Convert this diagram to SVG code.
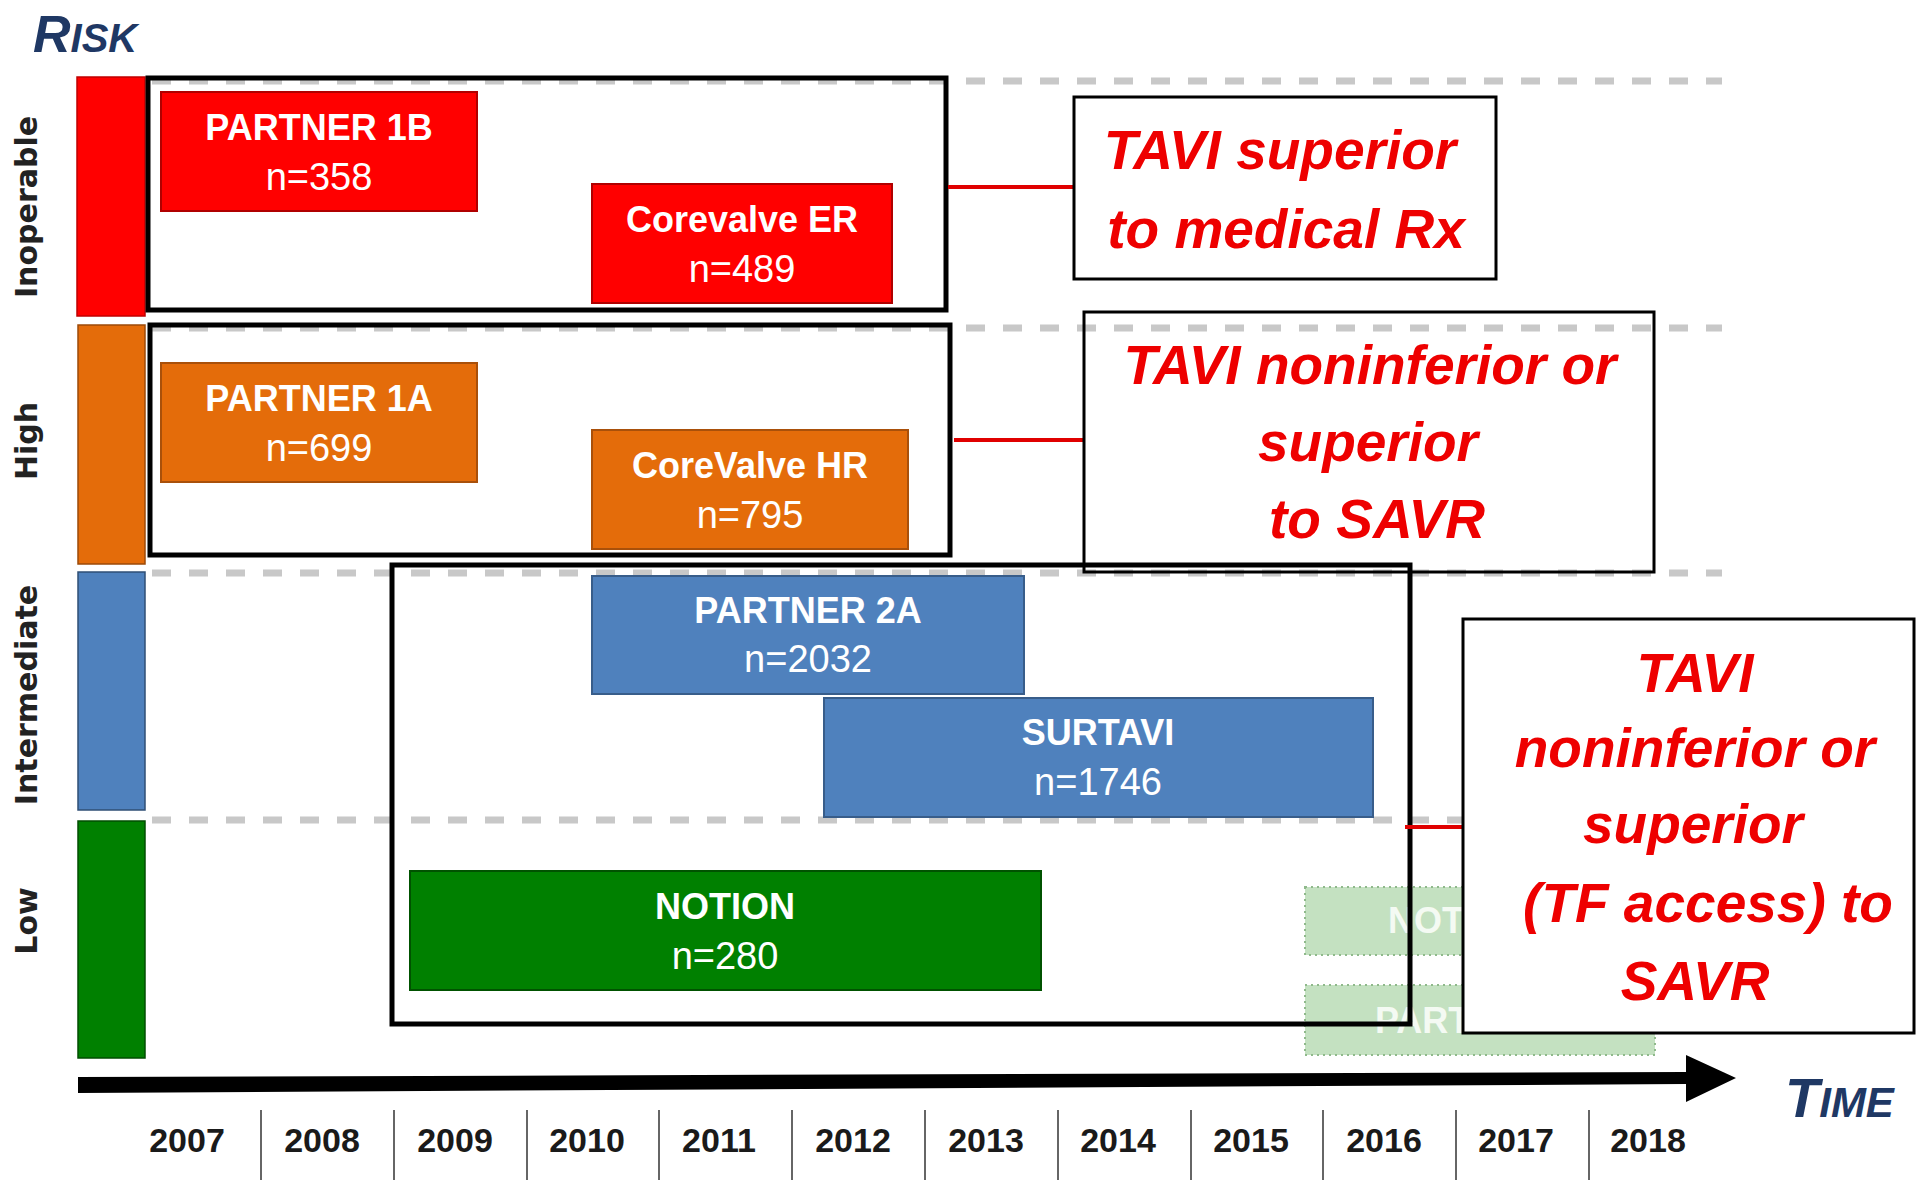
<svg xmlns="http://www.w3.org/2000/svg" width="1921" height="1180" viewBox="0 0 1921 1180">
<style>
.title{font-family:"Liberation Sans",Arial,sans-serif;font-weight:bold;font-size:36px;fill:#FFFFFF;text-anchor:middle}
.num{font-family:"Liberation Sans",Arial,sans-serif;font-size:38px;fill:#FFFFFF;text-anchor:middle}
.ghost{font-family:"Liberation Sans",Arial,sans-serif;font-weight:bold;font-size:36px;fill:#F4FAF3}
.res{font-family:"Liberation Sans",Arial,sans-serif;font-weight:bold;font-style:italic;font-size:55px;fill:#EE0000;text-anchor:middle}
.risk{font-family:"DejaVu Sans",Verdana,sans-serif;font-weight:bold;font-size:30px;fill:#222222;text-anchor:middle}
.year{font-family:"Liberation Sans",Arial,sans-serif;font-weight:bold;font-size:34px;fill:#1A1A1A;text-anchor:middle}
.axis{font-family:"Liberation Sans",Arial,sans-serif;font-weight:bold;font-style:italic;fill:#1F3864}
.frame{fill:none;stroke:#000000;stroke-width:5}
.rframe{fill:#FFFFFF;stroke:#000000;stroke-width:3}
.oframe{fill:none;stroke:#000000;stroke-width:3}
.dash{stroke:#C8C8C8;stroke-width:7;stroke-dasharray:19 18;fill:none}
.conn{stroke:#E00000;stroke-width:4;fill:none}
.div{stroke:#333333;stroke-width:1.5}
.red{fill:#FF0000;stroke:#B00000;stroke-width:2}
.orange{fill:#E46C0A;stroke:#A9500A;stroke-width:2}
.blue{fill:#4F81BD;stroke:#385D8A;stroke-width:2}
.green{fill:#008000;stroke:#005200;stroke-width:2}
.gbox{fill:#C4E1C1;stroke:#8FB98B;stroke-width:2;stroke-dasharray:2 4}
</style>

<g id="axis-labels">
<text class="axis" x="33" y="52"><tspan font-size="52">R</tspan><tspan font-size="40">ISK</tspan></text>
<text class="axis" x="1785" y="1117"><tspan font-size="56">T</tspan><tspan font-size="42">IME</tspan></text>
</g>

<g id="grid">
<line class="dash" x1="152" y1="81" x2="1722" y2="81"/>
<line class="dash" x1="152" y1="328" x2="1722" y2="328"/>
<line class="dash" x1="152" y1="573" x2="1722" y2="573"/>
<line class="dash" x1="152" y1="820" x2="1722" y2="820"/>
</g>

<g id="risk-bars">
<rect x="77" y="77" width="68" height="239" fill="#FF0000" stroke="#C00000" stroke-width="1.5"/>
<rect x="78" y="325" width="67" height="239" fill="#E46C0A" stroke="#9C4A08" stroke-width="1.5"/>
<rect x="78" y="572" width="67" height="238" fill="#4F81BD" stroke="#2F4F75" stroke-width="1.5"/>
<rect x="78" y="821" width="67" height="237" fill="#008000" stroke="#004D00" stroke-width="1.5"/>
<text class="risk" transform="translate(37,207) rotate(-90)">Inoperable</text>
<text class="risk" transform="translate(37,441) rotate(-90)">High</text>
<text class="risk" transform="translate(37,695) rotate(-90)">Intermediate</text>
<text class="risk" transform="translate(37,921) rotate(-90)">Low</text>
</g>

<g id="ghost-notion">
<rect class="gbox" x="1305" y="887" width="350" height="68"/>
<text class="ghost" x="1388" y="933">NOT</text>
</g>
<g id="ghost-partner">
<rect class="gbox" x="1305" y="985" width="350" height="70"/>
<text class="ghost" x="1375" y="1033">PART</text>
</g>

<g id="group-inoperable"><rect class="frame" x="148" y="78" width="798" height="232"/></g>
<g id="group-high"><rect class="frame" x="150" y="325" width="800" height="230"/></g>
<g id="group-intermediate-low"><rect class="frame" x="392" y="565" width="1018" height="459"/></g>

<g id="partner-1b">
<rect class="red" x="161" y="92" width="316" height="119"/>
<text class="title" x="319" y="140">PARTNER 1B</text>
<text class="num" x="319" y="190">n=358</text>
</g>
<g id="corevalve-er">
<rect class="red" x="592" y="184" width="300" height="119"/>
<text class="title" x="742" y="232">Corevalve ER</text>
<text class="num" x="742" y="282">n=489</text>
</g>
<g id="partner-1a">
<rect class="orange" x="161" y="363" width="316" height="119"/>
<text class="title" x="319" y="411">PARTNER 1A</text>
<text class="num" x="319" y="461">n=699</text>
</g>
<g id="corevalve-hr">
<rect class="orange" x="592" y="430" width="316" height="119"/>
<text class="title" x="750" y="478">CoreValve HR</text>
<text class="num" x="750" y="528">n=795</text>
</g>
<g id="partner-2a">
<rect class="blue" x="592" y="576" width="432" height="118"/>
<text class="title" x="808" y="623">PARTNER 2A</text>
<text class="num" x="808" y="672">n=2032</text>
</g>
<g id="surtavi">
<rect class="blue" x="824" y="698" width="549" height="119"/>
<text class="title" x="1098" y="745">SURTAVI</text>
<text class="num" x="1098" y="795">n=1746</text>
</g>
<g id="notion">
<rect class="green" x="410" y="871" width="631" height="119"/>
<text class="title" x="725" y="919">NOTION</text>
<text class="num" x="725" y="969">n=280</text>
</g>

<g id="connectors">
<line class="conn" x1="948" y1="187" x2="1074" y2="187"/>
<line class="conn" x1="954" y1="440" x2="1084" y2="440"/>
<line class="conn" x1="1405" y1="827" x2="1463" y2="827"/>
</g>

<g id="result-inoperable">
<rect class="rframe" x="1074" y="97" width="422" height="182"/>
<text class="res" x="1280" y="169">TAVI superior</text>
<text class="res" x="1286" y="248">to medical Rx</text>
</g>
<g id="result-high">
<rect class="oframe" x="1084" y="312" width="570" height="260"/>
<text class="res" x="1370" y="384">TAVI noninferior or</text>
<text class="res" x="1368" y="461">superior</text>
<text class="res" x="1377" y="538">to SAVR</text>
</g>
<g id="result-intermediate">
<rect class="rframe" x="1463" y="619" width="451" height="414"/>
<text class="res" x="1695" y="692">TAVI</text>
<text class="res" x="1695" y="767">noninferior or</text>
<text class="res" x="1693" y="843">superior</text>
<text class="res" x="1708" y="922">(TF access) to</text>
<text class="res" x="1695" y="1000">SAVR</text>
</g>

<g id="time-axis">
<polygon points="78,1077 1686,1072 1686,1055 1736,1078 1686,1102 1686,1084 78,1093" fill="#000000"/>
<line class="div" x1="261" y1="1110" x2="261" y2="1180"/>
<line class="div" x1="394" y1="1110" x2="394" y2="1180"/>
<line class="div" x1="527" y1="1110" x2="527" y2="1180"/>
<line class="div" x1="659" y1="1110" x2="659" y2="1180"/>
<line class="div" x1="792" y1="1110" x2="792" y2="1180"/>
<line class="div" x1="925" y1="1110" x2="925" y2="1180"/>
<line class="div" x1="1058" y1="1110" x2="1058" y2="1180"/>
<line class="div" x1="1191" y1="1110" x2="1191" y2="1180"/>
<line class="div" x1="1323" y1="1110" x2="1323" y2="1180"/>
<line class="div" x1="1456" y1="1110" x2="1456" y2="1180"/>
<line class="div" x1="1589" y1="1110" x2="1589" y2="1180"/>
<text class="year" x="187" y="1152">2007</text>
<text class="year" x="322" y="1152">2008</text>
<text class="year" x="455" y="1152">2009</text>
<text class="year" x="587" y="1152">2010</text>
<text class="year" x="719" y="1152">2011</text>
<text class="year" x="853" y="1152">2012</text>
<text class="year" x="986" y="1152">2013</text>
<text class="year" x="1118" y="1152">2014</text>
<text class="year" x="1251" y="1152">2015</text>
<text class="year" x="1384" y="1152">2016</text>
<text class="year" x="1516" y="1152">2017</text>
<text class="year" x="1648" y="1152">2018</text>
</g>
</svg>
